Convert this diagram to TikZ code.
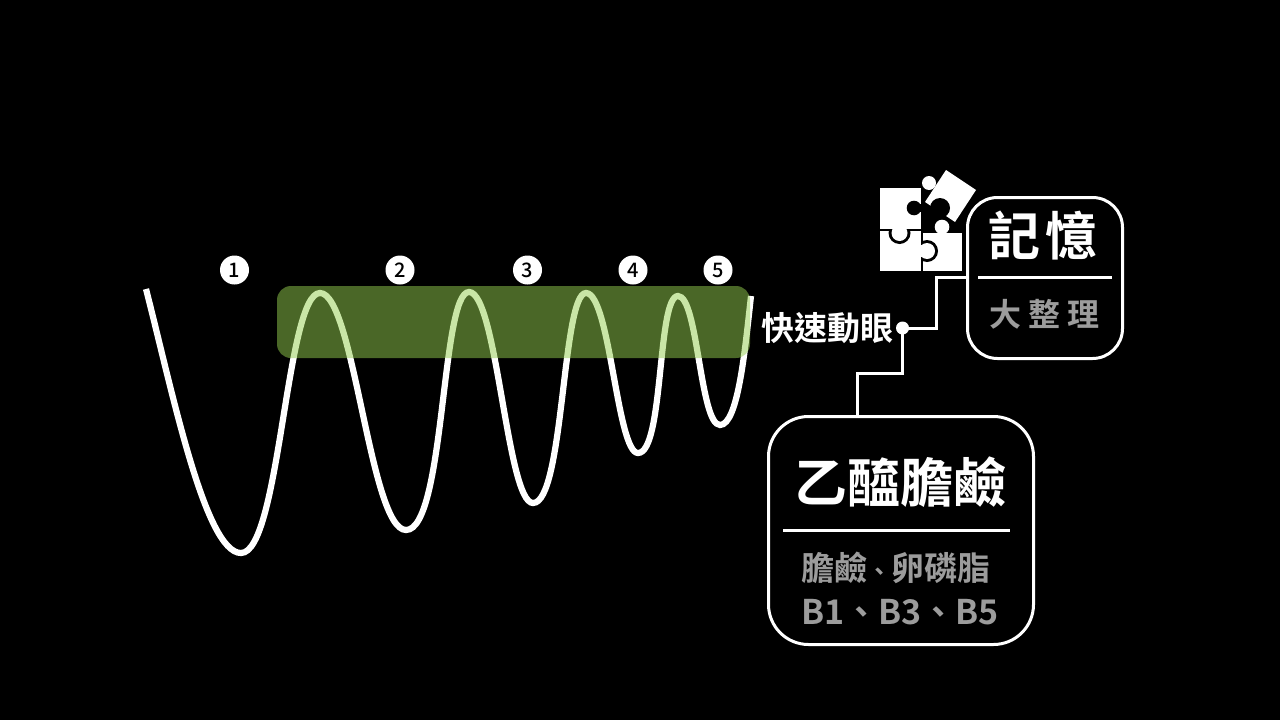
\documentclass[tikz,border=0pt]{standalone}
\usepackage{fontspec}
\setmainfont{Noto Sans CJK TC Bold}
\newfontfamily\medcjk{Noto Sans CJK TC Medium}
\definecolor{dimgray}{HTML}{9C9C9C}
\definecolor{bandgreen}{HTML}{94CE4E}
\tikzset{
  x=1pt,y=-1pt,
  wave/.style={draw=white,line width=6.2pt},
  band/.style={fill=bandgreen,fill opacity=.5,rounded corners=14pt},
  numdot/.style={circle,fill=white,text=black,minimum size=29pt,inner sep=0pt,font=\medcjk\fontsize{20}{20}\selectfont},
  cardbox/.style={draw=white,line width=3pt,rounded corners=#1,fill=black,inner sep=0pt},
  wire/.style={draw=white,line width=3pt},
  rule/.style={draw=white,line width=3pt},
  txt/.style={text=white,inner sep=0pt},
  dim/.style={text=dimgray,inner sep=0pt},
}
\begin{document}
\begin{tikzpicture}
\useasboundingbox[fill=black] (0,0) rectangle (1280,720);
% wave
\draw[wave] (146,289) .. controls (172,390) and (205,553) .. (241,553)
  .. controls (280,553) and (286,293) .. (320,293)
  .. controls (354,293) and (370,530) .. (406,530)
  .. controls (445,530) and (441,292) .. (469,292)
  .. controls (497,292) and (507,503) .. (533,503)
  .. controls (564,503) and (562,293) .. (586,293)
  .. controls (610,293) and (617,453) .. (638,453)
  .. controls (664,453) and (657,296) .. (678,296)
  .. controls (698,296) and (700,425) .. (720,425)
  .. controls (738,425) and (745,350) .. (751,296);
\fill[band] (277,286) rectangle (750,358);
% numbers
\node[numdot] (n1) at (234.5,270) {1};
\node[numdot] (n2) at (400,270) {2};
\node[numdot] (n3) at (527.5,270) {3};
\node[numdot] (n4) at (633,270) {4};
\node[numdot] (n5) at (718,270) {5};
% puzzle
\fill[white] (879.5,188) rectangle (921,228.5);
\fill[white] (879.5,230.5) rectangle (921,271);
\fill[white] (923,233) rectangle (962,271);
\fill[white] (946,170) -- (976,190) -- (955,222) -- (925,202) -- cycle;
\fill[white] (929,183) circle (7);
\fill[black] (914,208) circle (7.3);
\fill[black] (914,204) rectangle (924,212);
\fill[black] (940,208) circle (10);
\fill[white] (942,227) circle (7.3);
\fill[white] (937,233) rectangle (947,236);
% knob under the top left piece
\begin{scope}
\clip (885,231) rectangle (915,250);
\fill[black] (899.5,233) circle (11);
\end{scope}
\fill[white] (899.5,233) circle (8);
\fill[white] (893,226) rectangle (906,234);
% knob beside the lower right piece
\begin{scope}
\clip (923,238) rectangle (945,264);
\fill[black] (927,251) circle (11);
\end{scope}
\fill[white] (927,251) circle (8);
\fill[white] (920,245) rectangle (928,257);
% connectors and boxes
\node[cardbox=30pt,minimum width=155pt,minimum height=161pt] (mem) at (1045,278) {};
\node[cardbox=40pt,minimum width=265pt,minimum height=228pt] (ach) at (901,530.5) {};
\node[circle,fill=white,minimum size=13pt,inner sep=0pt] (dot) at (902.5,328) {};
\coordinate (memjoin) at (936,277);
\coordinate (achjoin) at (857,373);
\draw[wire] (dot.center) -- (dot.center -| memjoin) -- (memjoin) -- (memjoin -| mem.west);
\draw[wire] (dot.center) -- (dot.center |- achjoin) -- (achjoin) -- (achjoin |- ach.north);
\coordinate (memruleL) at (978,277);
\coordinate (memruleR) at (1112,277);
\coordinate (achruleL) at (783,530);
\coordinate (achruleR) at (1010,530);
\draw[rule] (memruleL) -- (memruleR);
\draw[rule] (achruleL) -- (achruleR);
% text
\node[txt,font=\fontsize{33}{33}\selectfont] (rem) at (827.5,328) {快速動眼};
\node[txt,font=\fontsize{52}{52}\selectfont] (t1) at (1043,236) {記\hspace{6pt}憶};
\node[dim,font=\fontsize{32}{32}\selectfont] (t2) at (1044.5,314) {大\hspace{7.5pt}整\hspace{7.5pt}理};
\node[txt,font=\fontsize{53}{53}\selectfont] (t3) at (900,482) {乙醯膽鹼};
\node[dim,font=\fontsize{33}{33}\selectfont] (t4) at (896,568) {膽鹼{\fontsize{24}{24}\selectfont 、}卵磷脂};
\node[dim,font=\fontsize{34}{34}\selectfont] (t5) at (900,612) {B1、B3、B5};
\end{tikzpicture}
\end{document}
